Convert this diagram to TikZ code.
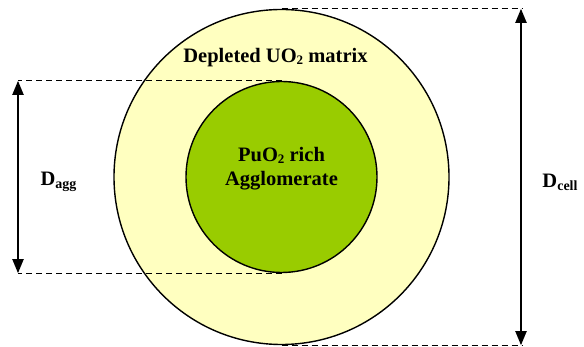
\documentclass[tikz,border=0pt]{standalone}
\usepackage{fontspec}
\setmainfont{Liberation Serif}
\usetikzlibrary{arrows.meta}
\definecolor{cellfill}{HTML}{FFFFC0}
\definecolor{aggfill}{HTML}{99CC00}
\newcommand{\sbs}[1]{\raisebox{-1.5pt}{\fontsize{13}{13}\selectfont #1}}
\newcommand{\dsub}[1]{\raisebox{-3pt}{\fontsize{14}{14}\selectfont #1}}
\begin{document}
\begin{tikzpicture}[x=1pt,y=-1pt,
  disc/.style={circle,draw=black,line width=1.4pt,inner sep=0pt},
  dashline/.style={draw=black,line width=0.9pt,dash pattern=on 6pt off 4pt},
  dimarrow/.style={draw=black,line width=2pt,{Triangle[width=11pt,length=14pt]}-{Triangle[width=11pt,length=14pt]}},
  lbl/.style={font=\bfseries\fontsize{20.5}{24}\selectfont,inner sep=0pt,align=center}]
\useasboundingbox (0,0) rectangle (584,347);
\node[disc,fill=cellfill,minimum size=335pt] (cell) at (281.5,177) {};
\node[disc,fill=aggfill,minimum size=191pt] (agg) at (281.5,177) {};
\coordinate (lx) at (18,0);
\coordinate (rx) at (521,0);
\draw[dashline] (agg.north) -- (agg.north -| lx);
\draw[dashline] (agg.south) -- (agg.south -| lx);
\draw[dashline] (cell.north) -- ([xshift=1pt]cell.north -| rx);
\draw[dashline] (cell.south) -- ([xshift=1pt]cell.south -| rx);
\draw[dimarrow] (agg.north -| lx) -- (agg.south -| lx);
\draw[dimarrow] (cell.north -| rx) -- (cell.south -| rx);
\node[lbl] (matrix) at (275.5,58) {Depleted UO\sbs{2} matrix};
\node[lbl] (pu) at (281.5,169) {PuO\sbs{2} rich\\Agglomerate};
\node[lbl] (dagg) at (58.5,182) {D\dsub{agg}};
\node[lbl] (dcell) at (560,182) {D\dsub{cell}};
\end{tikzpicture}
\end{document}
